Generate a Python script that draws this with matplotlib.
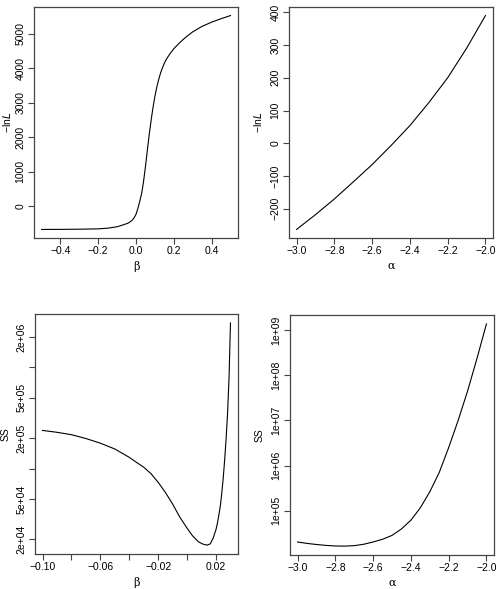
import numpy as np
import matplotlib
matplotlib.use("Agg")
import matplotlib.pyplot as plt
from matplotlib.ticker import FixedLocator, FixedFormatter, NullLocator

plt.rcParams['font.family'] = ['Liberation Sans', 'DejaVu Sans']
plt.rcParams['font.size'] = 7.5

# profile of -lnL against beta
beta_lnl = [-0.50, -0.40, -0.30, -0.20, -0.15, -0.10, -0.08, -0.06, -0.04, -0.02, -0.01, 0.00,
            0.01, 0.02, 0.03, 0.04, 0.05, 0.06, 0.07, 0.08, 0.09, 0.10, 0.11, 0.12, 0.13,
            0.14, 0.15, 0.16, 0.18, 0.20, 0.23, 0.26, 0.30, 0.35, 0.40, 0.45, 0.50]
lnl_beta = [-667, -665, -660, -650, -630, -590, -555, -520, -480, -400, -330, -230,
            -60, 150, 377, 720, 1150, 1620, 2080, 2490, 2860, 3180, 3450, 3670, 3860,
            4010, 4140, 4250, 4420, 4560, 4730, 4880, 5050, 5210, 5330, 5430, 5522]

# profile of -lnL against alpha
alpha_lnl = [-3.0, -2.9, -2.8, -2.7, -2.6, -2.5, -2.4, -2.3, -2.2, -2.1, -2.0]
lnl_alpha = [-263, -218, -170, -118, -65, -7, 54, 124, 200, 290, 390]

# sum of squares against beta
beta_ss = [-0.100, -0.090, -0.080, -0.070, -0.060, -0.050, -0.040, -0.035, -0.030, -0.025, -0.020,
           -0.015, -0.010, -0.005, 0.000, 0.004, 0.008, 0.011, 0.0138, 0.016, 0.018,
           0.020, 0.021, 0.022, 0.023, 0.024, 0.025, 0.026, 0.027, 0.028, 0.029, 0.030]
ss_beta = [2.38e5, 2.28e5, 2.16e5, 1.98e5, 1.78e5, 1.56e5, 1.29e5, 1.15e5, 1.03e5, 8.9e4, 7.3e4,
           5.8e4, 4.45e4, 3.3e4, 2.57e4, 2.14e4, 1.88e4, 1.79e4, 1.75e4, 1.8e4, 2.05e4,
           2.5e4, 2.9e4, 3.5e4, 4.3e4, 5.75e4, 8.1e4, 1.23e5, 2.0e5, 3.55e5, 7.9e5, 2.75e6]

# sum of squares against alpha
alpha_ss = [-3.0, -2.95, -2.9, -2.85, -2.8, -2.75, -2.7, -2.65, -2.6, -2.55, -2.5, -2.45,
            -2.4, -2.35, -2.3, -2.25, -2.2, -2.15, -2.1, -2.05, -2.0]
ss_alpha = [2.0e4, 1.86e4, 1.76e4, 1.68e4, 1.63e4, 1.62e4, 1.66e4, 1.78e4, 2.0e4, 2.3e4, 2.8e4, 3.9e4,
            6.1e4, 1.15e5, 2.6e5, 7.0e5, 2.5e6, 1.0e7, 4.5e7, 2.4e8, 1.4e9]

greek = ['DejaVu Serif']
axcol = '#444444'

fig = plt.figure(figsize=(4.96, 5.89), dpi=100)
boxes = [
    (34, 7, 238, 238),
    (289, 7, 493, 238),
    (35, 314, 238, 554),
    (290, 315, 494, 555),
]
axes = []
for (x0, y0, x1, y1) in boxes:
    ax = fig.add_axes([x0 / 496, 1 - y1 / 589, (x1 - x0) / 496, (y1 - y0) / 589])
    axes.append(ax)

for ax in axes:
    for s in ax.spines.values():
        s.set_color(axcol)
        s.set_linewidth(0.9)
    ax.tick_params(direction='out', length=4, width=0.8, color=axcol, pad=2)
    ax.margins(x=0.04, y=0.04)

ax1, ax2, ax3, ax4 = axes

ax1.plot(beta_lnl, lnl_beta, color='black', lw=0.8)
ax1.set_xticks([-0.4, -0.2, 0.0, 0.2, 0.4])
ax1.set_xticklabels(['\u22120.4', '\u22120.2', '0.0', '0.2', '0.4'])
ax1.set_yticks([0, 1000, 2000, 3000, 4000, 5000])
ax1.set_xlabel('\u03b2', family=greek, fontsize=8, labelpad=3)
ax1.set_ylabel('\u2212ln$\\it{L}$', va='center')
ax1.yaxis.set_label_coords(-0.13, 0.5)

ax2.plot(alpha_lnl, lnl_alpha, color='black', lw=0.8)
ax2.set_xticks([-3.0, -2.8, -2.6, -2.4, -2.2, -2.0])
ax2.set_xticklabels(['\u22123.0', '\u22122.8', '\u22122.6', '\u22122.4', '\u22122.2', '\u22122.0'])
ax2.set_yticks([-200, -100, 0, 100, 200, 300, 400])
ax2.set_xlabel('\u03b1', family=greek, fontsize=8, labelpad=3)
ax2.set_ylabel('\u2212ln$\\it{L}$', va='center')
ax2.yaxis.set_label_coords(-0.153, 0.5)

ax3.plot(beta_ss, ss_beta, color='black', lw=0.8)
ax3.set_yscale('log')
ax3.margins(x=0.04, y=0.04)
ss3_ticks = [2e4, 5e4, 1e5, 2e5, 5e5, 1e6, 2e6]
ss3_labels = ['2e+04', '5e+04', '', '2e+05', '5e+05', '', '2e+06']
ax3.yaxis.set_major_locator(FixedLocator(ss3_ticks))
ax3.yaxis.set_major_formatter(FixedFormatter(ss3_labels))
ax3.yaxis.set_minor_locator(NullLocator())
ax3.set_xticks([-0.10, -0.08, -0.06, -0.04, -0.02, 0.00, 0.02])
ax3.set_xticklabels(['\u22120.10', '', '\u22120.06', '', '\u22120.02', '', '0.02'])
ax3.set_xlabel('\u03b2', family=greek, fontsize=8, labelpad=3)
ax3.set_ylabel('SS', va='center')
ax3.yaxis.set_label_coords(-0.145, 0.5)

ax4.plot(alpha_ss, ss_alpha, color='black', lw=0.8)
ax4.set_yscale('log')
ax4.margins(x=0.04, y=0.04)
ax4.yaxis.set_major_locator(FixedLocator([1e5, 1e6, 1e7, 1e8, 1e9]))
ax4.yaxis.set_major_formatter(FixedFormatter(['1e+05', '1e+06', '1e+07', '1e+08', '1e+09']))
ax4.yaxis.set_minor_locator(NullLocator())
ax4.set_xticks([-3.0, -2.8, -2.6, -2.4, -2.2, -2.0])
ax4.set_xticklabels(['\u22123.0', '\u22122.8', '\u22122.6', '\u22122.4', '\u22122.2', '\u22122.0'])
ax4.set_xlabel('\u03b1', family=greek, fontsize=8, labelpad=3)
ax4.set_ylabel('SS', va='center')
ax4.yaxis.set_label_coords(-0.15, 0.5)

for ax in axes:
    for lab in ax.get_yticklabels():
        lab.set_rotation(90)
        lab.set_va('center')

fig.savefig('out.png', dpi=100)
